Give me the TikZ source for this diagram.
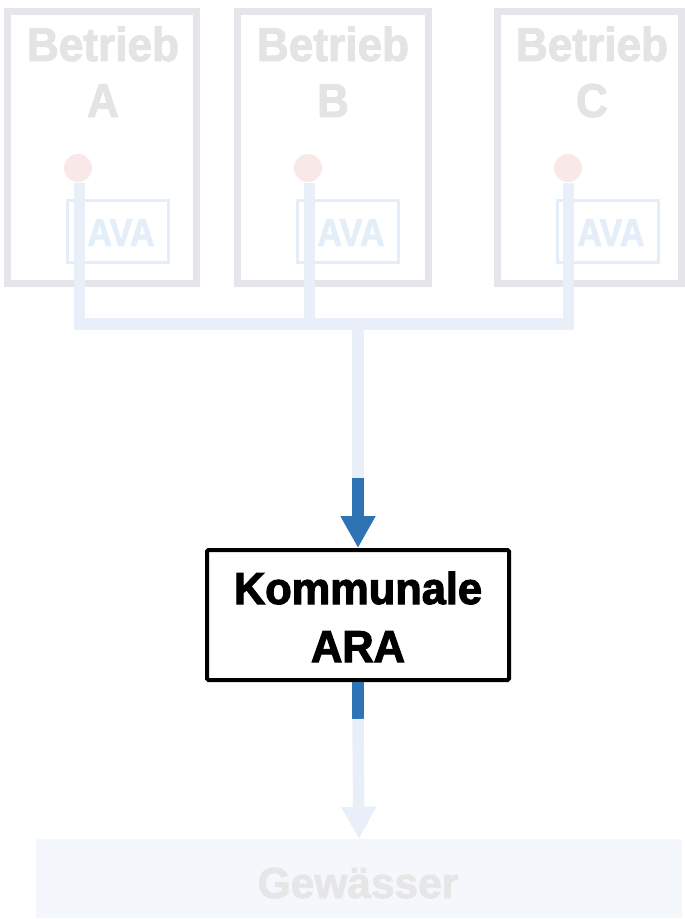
\documentclass[tikz,border=0pt]{standalone}
\usepackage{fontspec}
\setmainfont{Liberation Sans}
\newfontfamily\betfont[FakeStretch=0.93,BoldFeatures={FakeBold=2}]{Liberation Sans}
\newfontfamily\avafont[FakeStretch=0.88,BoldFeatures={FakeBold=2}]{Liberation Sans}
\newfontfamily\komfont[FakeStretch=0.97,BoldFeatures={FakeBold=2.5}]{Liberation Sans}
\newfontfamily\gewfont[FakeStretch=0.98,BoldFeatures={FakeBold=2}]{Liberation Sans}
\usetikzlibrary{arrows.meta}
\definecolor{boxgray}{HTML}{E6E6EA}
\definecolor{txtgray}{HTML}{E4E4E4}
\definecolor{pipeblue}{HTML}{E8EFF8}
\definecolor{avablue}{HTML}{E3EEF9}
\definecolor{dotpink}{HTML}{F9E8E8}
\definecolor{darkblue}{HTML}{2E74B5}
\definecolor{gewfill}{HTML}{F4F8FC}
\definecolor{gewtxt}{HTML}{E6E6E6}
\tikzset{
  betrbox/.style={draw=boxgray, line width=7pt, inner sep=0pt, minimum height=272pt},
  betrtxt/.style={anchor=base, inner sep=0pt, text=txtgray, font=\betfont\bfseries\fontsize{47.5}{50}\selectfont},
  avabox/.style={draw=avablue, line width=3pt, inner sep=0pt, minimum width=101pt, minimum height=62pt},
  avatxt/.style={anchor=base, inner sep=0pt, text=avablue, font=\avafont\bfseries\fontsize{39}{40}\selectfont},
  dot/.style={circle, fill=dotpink, inner sep=0pt, minimum size=28pt},
  pipe/.style={draw=pipeblue, line width=11.5pt},
  darkpipe/.style={draw=darkblue, line width=11.5pt},
  tip/.style={-{Triangle[width=33pt,length=32pt]}},
  arabox/.style={draw=black, line width=4pt, rounded corners=1.5pt, fill=white, inner sep=0pt, minimum width=302pt, minimum height=130pt},
  aratxt/.style={anchor=base, inner sep=0pt, text=black, font=\komfont\bfseries\fontsize{44.7}{46}\selectfont},
  gewbox/.style={fill=gewfill, inner sep=0pt, minimum width=646pt, minimum height=79pt},
  gewtxtst/.style={anchor=base, inner sep=0pt, text=gewtxt, font=\gewfont\bfseries\fontsize{43.3}{45}\selectfont},
}
\begin{document}
\begin{tikzpicture}[x=1pt,y=-1pt]
\useasboundingbox (0,0) rectangle (685,919);
% Betriebe
\node[betrbox, minimum width=189pt] (boxA) at (102,147) {};
\node[betrbox, minimum width=190.5pt] (boxB) at (332.75,147) {};
\node[betrbox, minimum width=184pt] (boxC) at (589.5,147) {};
\node[betrtxt] (tA1) at (103,61) {Betrieb};
\node[betrtxt] (tA2) at (103,117) {A};
\node[betrtxt] (tB1) at (333,61) {Betrieb};
\node[betrtxt] (tB2) at (333,117) {B};
\node[betrtxt] (tC1) at (592,61) {Betrieb};
\node[betrtxt] (tC2) at (592,117) {C};
% AVA
\node[avabox] (avaA) at (118,231.5) {};
\node[avabox] (avaB) at (348,231.5) {};
\node[avabox] (avaC) at (607.5,231.5) {};
\node[avatxt] (vA) at (121,246) {AVA};
\node[avatxt] (vB) at (351,246) {AVA};
\node[avatxt] (vC) at (611,246) {AVA};
% dots
\node[dot] (dA) at (78,168) {};
\node[dot] (dB) at (308,168) {};
\node[dot] (dC) at (568,168) {};
% pipes
\coordinate (pA) at (79.5,183);
\coordinate (pB) at (309.5,183);
\coordinate (pC) at (568.5,183);
\coordinate (cA) at (79.5,324);
\coordinate (cB) at (309.5,324);
\coordinate (cC) at (568.5,324);
\coordinate (jn) at (358,324);
\coordinate (dk1) at (358,478);
\coordinate (dk2) at (358,719);
\draw[pipe] (pA) -- (cA) -- (cC) -- (pC);
\draw[pipe] (pB) -- (cB);
% ARA
\node[arabox] (ara) at (358,615) {};
\node[aratxt] (k1) at (358,604) {Kommunale};
\node[aratxt] (k2) at (358,662) {ARA};
% Gewaesser
\node[gewbox] (gew) at (359,878.5) {};
\node[gewtxtst] (gt) at (358,898) {Gewässer};
% main flow
\draw[pipe] (jn) -- (dk1);
\draw[darkpipe, tip] (dk1) -- (ara.north);
\draw[darkpipe] (ara.south) -- (dk2);
\draw[pipe, tip] (dk2) -- (gew.north);
\end{tikzpicture}
\end{document}
